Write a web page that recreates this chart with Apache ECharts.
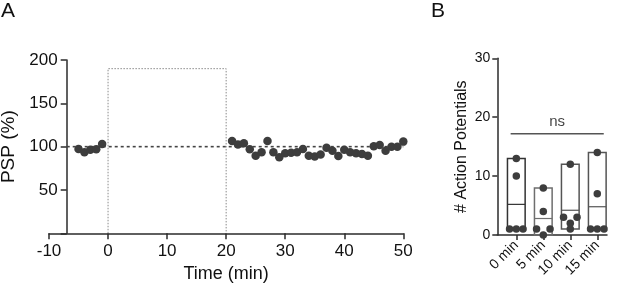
<!DOCTYPE html>
<html>
<head>
<meta charset="utf-8">
<script src="https://cdn.jsdelivr.net/npm/echarts@6/dist/echarts.min.js"></script>
<style>
html,body{margin:0;padding:0;background:#fff;}
#c{width:617px;height:291px;}
</style>
</head>
<body>
<div id="c"></div>
<script>
// ---- Panel A data ----
const aTimesPre = [-5, -4, -3, -2, -1];
const aPre = [97.3, 93.5, 96.5, 97, 103];
const aTimesPost = [21, 22, 23, 24, 25, 26, 27, 28, 29, 30, 31, 32, 33, 34, 35, 36, 37, 38, 39, 40, 41, 42, 43, 44, 45, 46, 47, 48, 49, 50];
const aPost = [106.5, 102.5, 103.8, 97, 89.5, 93.4, 106.5, 93.4, 87.7, 92.3, 93, 93.5, 97.3, 89.6, 88.5, 91, 98.8, 95.4, 89.2, 96.5, 93.5, 92.3, 91.5, 89.6, 100.4, 102, 95.4, 100, 100, 105.8];
const aBaseline = 100;
const aWindowStart = 0, aWindowEnd = 20, aWindowTop = 190;
const aXTicks = [-10, 0, 10, 20, 30, 40, 50];
const aYTicks = [50, 100, 150, 200];

// ---- Panel B data ----
const bCats = ['0 min', '5 min', '10 min', '15 min'];
const bVals0 = [13, 10, 1, 1, 1];
const bVals5 = [8, 4, 1, 0, 1];
const bVals10 = [12, 3, 2, 1, 3];
const bVals15 = [14, 7, 1, 1, 1];
const bYTicks = [0, 10, 20, 30];
const bSig = 'ns';
const bSigLevel = 17.2;

// swarm columns (layout only)
const bSwarm = [[0, 0, -1, 0, 1], [0, 0, -1, 0, 1], [0, -1, 0, 0, 1], [0, 0, -1, 0, 1]];
const bAll = [bVals0, bVals5, bVals10, bVals15];

const dark = '#3d3d3d';

const preData = aTimesPre.map((t, i) => [t, aPre[i]]);
const postData = aTimesPost.map((t, i) => [t, aPost[i]]);

const boxData = bAll.map((v, i) => {
  const mn = Math.min(...v), mx = Math.max(...v);
  const mean = v.reduce((a, b) => a + b, 0) / v.length;
  return [i, mn, mx, mean];
});
const boxColors = ['#333333', '#6e6e6e', '#555555', '#555555'];
const bPoints = [];
bAll.forEach((v, i) => v.forEach((y, j) => bPoints.push([i + bSwarm[i][j] * 0.25, y])));

const chart = echarts.init(document.getElementById('c'), null, {renderer: 'canvas'});
chart.setOption({
  animation: false,
  backgroundColor: '#fff',
  textStyle: {fontFamily: 'Liberation Sans, Arial, sans-serif'},
  graphic: [
    {type: 'text', left: 1, top: 1, style: {text: 'A', fontSize: 21, fill: '#111', fontFamily: 'Liberation Sans'}},
    {type: 'text', left: 431, top: 1, style: {text: 'B', fontSize: 21, fill: '#111', fontFamily: 'Liberation Sans'}}
  ],
  grid: [
    {left: 49, right: 213.7, top: 60, bottom: 57.7, outerBoundsMode: 'none', containLabel: false},
    {left: 497.3, right: 10, top: 58.3, bottom: 56, outerBoundsMode: 'none', containLabel: false}
  ],
  xAxis: [
    {
      gridIndex: 0, type: 'value', min: -10, max: 50, interval: 10,
      name: 'Time (min)', nameLocation: 'middle', nameGap: 32,
      nameTextStyle: {fontSize: 18, color: '#111'},
      axisLine: {show: true, onZero: false, lineStyle: {color: '#2b2b2b', width: 1.5}},
      axisTick: {show: true, length: 6, lineStyle: {color: '#2b2b2b', width: 1.5}},
      axisLabel: {fontSize: 17, color: '#111', margin: 10},
      splitLine: {show: false}
    },
    {
      gridIndex: 1, type: 'value', min: -0.704, max: 3.36,
      axisLine: {show: true, onZero: false, lineStyle: {color: '#2b2b2b', width: 1.5}},
      axisTick: {show: true, length: 5, customValues: [0, 1, 2, 3], lineStyle: {color: '#2b2b2b', width: 1.5}},
      axisLabel: {fontSize: 14, color: '#111', rotate: 45, margin: 8, customValues: [0, 1, 2, 3],
        formatter: v => bCats[Math.round(v)] || ''},
      splitLine: {show: false}
    }
  ],
  yAxis: [
    {
      gridIndex: 0, type: 'value', min: 0, max: 200, interval: 50, offset: -17.7,
      name: 'PSP (%)', nameLocation: 'middle', nameGap: 43, nameRotate: 90,
      nameTextStyle: {fontSize: 19, color: '#111'},
      axisLine: {show: true, onZero: false, lineStyle: {color: '#2b2b2b', width: 1.5}},
      axisTick: {show: true, length: 6, lineStyle: {color: '#2b2b2b', width: 1.5}},
      axisLabel: {fontSize: 17, color: '#111', margin: 9, formatter: v => (aYTicks.indexOf(v) >= 0 ? String(v) : '')},
      splitLine: {show: false}
    },
    {
      gridIndex: 1, type: 'value', min: 0, max: 30, interval: 10,
      name: '# Action Potentials', nameLocation: 'middle', nameGap: 28, nameRotate: 90,
      nameTextStyle: {fontSize: 16, color: '#111'},
      axisLine: {show: true, onZero: false, lineStyle: {color: '#2b2b2b', width: 1.5}},
      axisTick: {show: true, length: 5, lineStyle: {color: '#2b2b2b', width: 1.5}},
      axisLabel: {fontSize: 14, color: '#111', margin: 7},
      splitLine: {show: false}
    }
  ],
  series: [
    {
      type: 'line', xAxisIndex: 0, yAxisIndex: 0, symbol: 'none', silent: true,
      data: [[aWindowStart, 0], [aWindowStart, aWindowTop], [aWindowEnd, aWindowTop], [aWindowEnd, 0]],
      lineStyle: {color: '#8a8a8a', width: 1, type: [1.5, 1.5]}, z: 1
    },
    {
      type: 'line', xAxisIndex: 0, yAxisIndex: 0, symbol: 'none', silent: true,
      data: [[-7, aBaseline], [50, aBaseline]],
      lineStyle: {color: '#444', width: 1.6, type: [3, 3]}, z: 2
    },
    {
      type: 'scatter', xAxisIndex: 0, yAxisIndex: 0, data: preData.concat(postData),
      symbolSize: 8.5, itemStyle: {color: dark, opacity: 1}, z: 3
    },
    {
      type: 'custom', xAxisIndex: 1, yAxisIndex: 1, data: boxData, z: 2,
      renderItem: function (params, api) {
        const i = api.value(0), lo = api.value(1), hi = api.value(2), mean = api.value(3);
        const pTop = api.coord([i, hi]);
        const pBot = api.coord([i, lo]);
        const pMean = api.coord([i, mean]);
        const w = api.size([0.655, 0])[0];
        const col = boxColors[params.dataIndex];
        return {
          type: 'group',
          children: [
            {type: 'rect', shape: {x: pTop[0] - w / 2, y: pTop[1], width: w, height: pBot[1] - pTop[1]},
              style: {fill: 'none', stroke: col, lineWidth: 1.5}},
            {type: 'line', shape: {x1: pTop[0] - w / 2, y1: pMean[1], x2: pTop[0] + w / 2, y2: pMean[1]},
              style: {stroke: col, lineWidth: 1.2}}
          ]
        };
      }
    },
    {
      type: 'scatter', xAxisIndex: 1, yAxisIndex: 1, data: bPoints,
      symbolSize: 7.5, itemStyle: {color: dark, opacity: 1}, z: 4
    },
    {
      type: 'line', xAxisIndex: 1, yAxisIndex: 1, symbol: 'none', silent: true,
      data: [[-0.21, bSigLevel], [3.24, bSigLevel]],
      lineStyle: {color: '#555', width: 1.6}, z: 2
    },
    {
      type: 'scatter', xAxisIndex: 1, yAxisIndex: 1, symbolSize: 0, silent: true,
      data: [[1.515, bSigLevel]],
      label: {show: true, position: 'top', distance: 4, formatter: bSig, fontSize: 15, color: '#111'}
    }
  ]
});
</script>
</body>
</html>
